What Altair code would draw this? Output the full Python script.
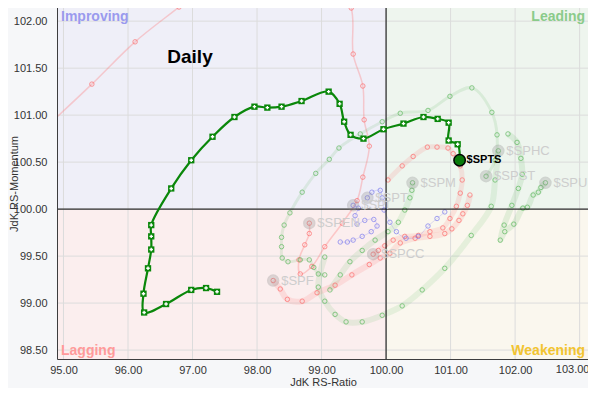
import altair as alt
import pandas as pd

# ---- axis ranges / ticks ----
X_MIN, X_MAX = 94.915, 103.13
Y_MIN, Y_MAX = 98.405, 102.14
x_ticks = [95, 96, 97, 98, 99, 100, 101, 102, 103]
y_ticks = [98.5, 99.0, 99.5, 100.0, 100.5, 101.0, 101.5, 102.0]

# ---- main series $SPTS ----
spts_x = [97.38, 97.21, 96.98, 96.59, 96.25, 96.24, 96.31, 96.36, 96.36, 96.36,
          96.67, 96.98, 97.31, 97.65, 97.96, 98.16, 98.38, 98.69, 99.11, 99.28,
          99.35, 99.45, 99.65, 99.96, 100.27, 100.58, 100.80, 100.97, 100.97, 101.11, 101.14]
spts_y = [99.12, 99.16, 99.14, 98.99, 98.90, 99.10, 99.37, 99.57, 99.71, 99.83,
          100.22, 100.52, 100.77, 100.98, 101.09, 101.08, 101.09, 101.15, 101.25, 101.12,
          100.93, 100.79, 100.75, 100.85, 100.91, 100.98, 100.96, 100.92, 100.73, 100.69, 100.52]

# ---- background sectors ----
spen_x = [94.71, 95.44, 96.11, 96.79, 97.50, 98.36, 99.13, 99.46, 99.49, 99.64, 99.66,
          99.74, 99.64, 99.55, 99.32, 99.05, 98.85, 98.67, 98.65, 98.74, 98.81, 98.81]
spen_y = [100.86, 101.33, 101.78, 102.15, 102.54, 102.70, 102.54, 102.14, 101.65, 101.31, 100.95,
          100.67, 100.34, 100.09, 99.85, 99.60, 99.39, 99.31, 99.46, 99.62, 99.74, 99.85]

spf_x = [101.30, 101.26, 101.19, 101.13, 101.02, 100.91, 100.68, 100.45, 100.22, 100.06,
         99.91, 99.74, 99.47, 99.21, 98.93, 98.70, 98.47, 98.36, 98.25]
spf_y = [100.15, 100.04, 99.95, 99.88, 99.79, 99.74, 99.71, 99.69, 99.64, 99.53,
         99.48, 99.41, 99.30, 99.19, 99.11, 99.02, 99.04, 99.15, 99.24]

spcc_x = [100.03, 100.25, 100.42, 100.64, 100.79, 100.96, 101.04, 101.15, 101.18, 101.15,
          101.09, 100.99, 100.88, 100.68, 100.50, 100.29, 100.11, 99.98, 99.88, 99.80]
spcc_y = [100.31, 100.46, 100.56, 100.66, 100.66, 100.65, 100.59, 100.46, 100.31, 100.17,
          100.03, 99.90, 99.80, 99.76, 99.72, 99.71, 99.67, 99.61, 99.56, 99.52]

sphc_x = [99.05, 98.95, 99.05, 99.21, 99.38, 99.63, 99.94, 100.25, 100.56, 100.91,
          101.32, 101.63, 101.69, 101.74]
sphc_y = [99.49, 99.17, 99.02, 98.88, 98.80, 98.80, 98.87, 98.97, 99.14, 99.37,
          99.72, 100.03, 100.31, 100.62]

spst_x = [99.05, 98.95, 98.88, 98.81, 98.67, 98.48, 98.39, 98.38, 98.38, 98.42, 98.51,
          98.70, 98.91, 99.12, 99.27, 99.60, 99.94, 100.22, 100.65, 100.99, 101.33,
          101.64, 101.72, 101.69, 101.55]
spst_y = [99.30, 99.31, 99.38, 99.46, 99.46, 99.44, 99.48, 99.60, 99.70, 99.83, 99.96,
          100.18, 100.38, 100.53, 100.65, 100.80, 100.93, 101.02, 101.05, 101.20, 101.29,
          101.03, 100.79, 100.52, 100.35]

spm_x = [99.13, 99.29, 99.44, 99.63, 99.83, 100.03, 100.19, 100.29, 100.37, 100.40, 100.41]
spm_y = [99.14, 99.30, 99.44, 99.56, 99.67, 99.76, 99.86, 99.99, 100.12, 100.20, 100.28]

spu_x = [101.89, 102.03, 102.09, 102.11, 102.05, 101.95, 101.83, 101.77, 101.84, 101.98,
         102.12, 102.19, 102.28, 102.36, 102.40, 102.47]
spu_y = [100.80, 100.71, 100.54, 100.37, 100.22, 100.04, 99.83, 99.67, 99.76, 99.84,
         100.01, 100.02, 100.15, 100.18, 100.23, 100.28]

spt_x = [100.91, 100.79, 100.65, 100.50, 100.31, 100.16, 100.06, 99.97, 99.94, 99.91, 99.78, 99.71]
spt_y = [99.97, 99.90, 99.82, 99.71, 99.69, 99.76, 99.86, 99.99, 100.12, 100.20, 100.18, 100.12]

spi_x = [99.29, 99.40, 99.49, 99.63, 99.77, 99.86, 99.81, 99.67, 99.55, 99.52, 99.57, 99.49]
spi_y = [99.65, 99.65, 99.67, 99.71, 99.76, 99.82, 99.89, 99.88, 99.84, 99.93, 100.01, 100.04]

tails = {
    "$SPEN": (spen_x, spen_y), "$SPF": (spf_x, spf_y), "$SPCC": (spcc_x, spcc_y),
    "$SPHC": (sphc_x, sphc_y), "$SPST": (spst_x, spst_y), "$SPM": (spm_x, spm_y),
    "$SPU": (spu_x, spu_y), "$SPT": (spt_x, spt_y), "$SPI": (spi_x, spi_y),
}

RED, GREEN, BLUE = "#ff6b6b", "#5cb85c", "#7a7aee"
# colour, line width, line opacity
style = {
    "$SPEN": (RED, 1.5, 0.3), "$SPF": (RED, 6, 0.15), "$SPCC": (RED, 5, 0.15),
    "$SPHC": (GREEN, 6, 0.13), "$SPST": (GREEN, 3, 0.15), "$SPM": (GREEN, 6, 0.13),
    "$SPU": (GREEN, 6, 0.15), "$SPT": (BLUE, 1, 0.25), "$SPI": (BLUE, 1, 0.25),
}

rows, heads = [], []
for name, (xs, ys) in tails.items():
    c, w, op = style[name]
    for i, (a, b) in enumerate(zip(xs, ys)):
        rows.append(dict(sector=name, i=i, x=a, y=b, col=c, w=w, op=op))
    heads.append(dict(sector=name, x=xs[-1], y=ys[-1]))
tail_df = pd.DataFrame(rows)
head_df = pd.DataFrame(heads)
main_df = pd.DataFrame({"i": range(len(spts_x)), "x": spts_x, "y": spts_y})
main_head = pd.DataFrame({"x": [spts_x[-1]], "y": [spts_y[-1]], "t": ["$SPTS"]})

quads = pd.DataFrame({
    "x": [X_MIN, 100, X_MIN, 100], "x2": [100, X_MAX, 100, X_MAX],
    "y": [100, 100, Y_MIN, Y_MIN], "y2": [Y_MAX, Y_MAX, 100, 100],
    "fill": ["#efeff8", "#eef5ee", "#fbeeee", "#faf7ee"],
})

FONT = "Liberation Sans"
last_tick = x_ticks[-1]
X = alt.X("x:Q", scale=alt.Scale(domain=[X_MIN, X_MAX], nice=False, zero=False),
          axis=alt.Axis(values=x_ticks, format=".2f", title="JdK RS-Ratio", grid=False,
                        ticks=False, domain=False, labelPadding=5, titlePadding=1,
                        labelOverlap=False,
                        labelExpr=f"datum.value == {last_tick} ? '' : datum.label",
                        labelFont=FONT, titleFont=FONT, labelFontSize=11, titleFontSize=11,
                        labelColor="#333", titleColor="#333", titleFontWeight="normal"))
Y = alt.Y("y:Q", scale=alt.Scale(domain=[Y_MIN, Y_MAX], nice=False, zero=False),
          axis=alt.Axis(values=y_ticks, format=".2f", title="JdK RS-Momentum", grid=False,
                        ticks=False, domain=False, labelPadding=11, titleX=-39,
                        labelFont=FONT, titleFont=FONT, labelFontSize=11, titleFontSize=11,
                        labelColor="#333", titleColor="#333", titleFontWeight="normal"))

bg = alt.Chart(quads).mark_rect().encode(
    x=X, x2="x2:Q", y=Y, y2="y2:Q", color=alt.Color("fill:N", scale=None))

grid_x = alt.Chart(pd.DataFrame({"x": x_ticks})).mark_rule(color="#dcdcdc", strokeWidth=1).encode(x=X)
grid_y = alt.Chart(pd.DataFrame({"y": y_ticks})).mark_rule(color="#dcdcdc", strokeWidth=1).encode(y=Y)

# last x tick label, nudged left so it stays inside the page
last_lbl = alt.Chart(pd.DataFrame({"x": [last_tick], "t": [f"{last_tick:.2f}"]})).mark_text(
    font=FONT, fontSize=11, color="#333", align="center", baseline="top", dx=-7, dy=0
).encode(x=X, y=alt.value(356), text="t:N")

tail_lines = alt.Chart(tail_df).mark_line(interpolate="catmull-rom", clip=True).encode(
    x=X, y=Y, detail="sector:N", order="i:Q",
    color=alt.Color("col:N", scale=None),
    strokeWidth=alt.StrokeWidth("w:Q", scale=None),
    opacity=alt.Opacity("op:Q", scale=None))
tail_pts = alt.Chart(tail_df).mark_point(shape="circle", filled=False, size=20,
                                         strokeWidth=1, opacity=0.7, clip=True).encode(
    x=X, y=Y, color=alt.Color("col:N", scale=None))

center_v = alt.Chart(pd.DataFrame({"x": [100]})).mark_rule(color="black", strokeWidth=1).encode(x=X)
center_h = alt.Chart(pd.DataFrame({"y": [100]})).mark_rule(color="black", strokeWidth=1).encode(y=Y)

head_circ = alt.Chart(head_df).mark_circle(size=120, color="#909090", opacity=0.28,
                                           stroke="#808080", strokeWidth=1.5).encode(x=X, y=Y)
head_lbl = alt.Chart(head_df).mark_text(align="left", baseline="middle", dx=8, fontSize=13,
                                        font=FONT, color="#cdcdcd").encode(x=X, y=Y, text="sector:N")

main_line = alt.Chart(main_df).mark_line(interpolate="catmull-rom", color="#0a870a",
                                         strokeWidth=2.2).encode(x=X, y=Y, order="i:Q")
main_sq = alt.Chart(main_df).mark_point(shape="square", filled=True, size=40, color="#0a870a",
                                        opacity=1).encode(x=X, y=Y)
main_plus = alt.Chart(main_df).mark_point(shape="cross", filled=True, size=12, color="white",
                                          opacity=1).encode(x=X, y=Y)
main_hd = alt.Chart(main_head).mark_circle(size=130, color="#0a7a0a", opacity=1,
                                           stroke="black", strokeWidth=1.5).encode(x=X, y=Y)
main_hl = alt.Chart(main_head).mark_text(align="left", baseline="middle", dx=7, fontSize=11,
                                         fontWeight="bold", font=FONT, color="black").encode(
    x=X, y=Y, text="t:N")

daily = alt.Chart(pd.DataFrame({"t": ["Daily"]})).mark_text(
    fontSize=19, fontWeight="bold", font=FONT, color="black", align="center",
    baseline="middle").encode(x=alt.value(132), y=alt.value(49), text="t:N")

def qlabel(t, col, xv, yv, al):
    return alt.Chart(pd.DataFrame({"t": [t]})).mark_text(
        fontSize=14, fontWeight="bold", font=FONT, color=col, align=al,
        baseline="middle").encode(x=alt.value(xv), y=alt.value(yv), text="t:N")

labels = (qlabel("Improving", "#9a9aee", 3, 9, "left")
          + qlabel("Leading", "#8acb8a", 527, 9, "right")
          + qlabel("Lagging", "#ff9a9a", 3, 343, "left")
          + qlabel("Weakening", "#f2c430", 527, 343, "right"))

chart = alt.layer(
    bg, grid_x, grid_y, tail_lines, tail_pts, center_v, center_h, head_circ, head_lbl,
    main_line, main_sq, main_plus, main_hd, main_hl, daily, labels, last_lbl
).properties(
    width=530, height=351,
    autosize=alt.AutoSizeParams(type="none"),
    padding={"left": 50, "top": 0, "right": 0, "bottom": 29},
    background="#f6f7f9",
).configure_view(stroke="black", strokeWidth=1.5)

chart.save("out.html", embed_options={"renderer": "svg", "actions": False})
